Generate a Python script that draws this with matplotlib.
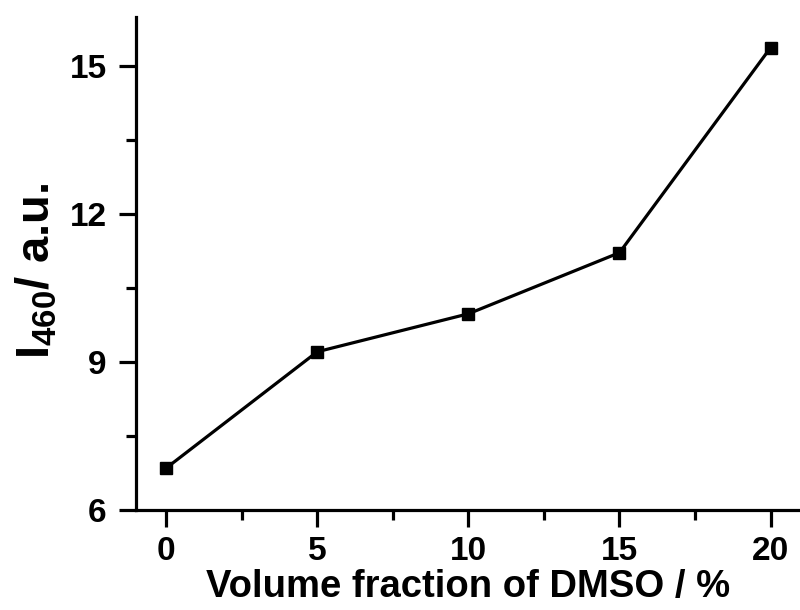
import matplotlib
matplotlib.use("Agg")
import matplotlib.pyplot as plt
from matplotlib.ticker import MultipleLocator

x_values = [0, 5, 10, 15, 20]
y_values = [6.85, 9.21, 9.98, 11.22, 15.38]
x_ticks = [0, 5, 10, 15, 20]
y_ticks = [6, 9, 12, 15]

plt.rcParams['font.family'] = ['Liberation Sans', 'DejaVu Sans']
plt.rcParams['font.weight'] = 'bold'
plt.rcParams['mathtext.fontset'] = 'custom'
plt.rcParams['mathtext.rm'] = 'Liberation Sans:bold'
plt.rcParams['mathtext.bf'] = 'Liberation Sans:bold'
plt.rcParams['mathtext.it'] = 'Liberation Sans:bold'
plt.rcParams['mathtext.default'] = 'bf'

fig = plt.figure(figsize=(8, 6.1), dpi=100)
ax = fig.add_axes([0.17, 0.164, 0.831, 0.808])
ax.plot(x_values, y_values, color='black', lw=2.3, marker='s', ms=8, mfc='black', mec='black')

ax.set_xlim(-1, 21)
ax.set_ylim(6, 16)
ax.set_xticks(x_ticks)
ax.set_yticks(y_ticks)
ax.xaxis.set_minor_locator(MultipleLocator(2.5))
ax.yaxis.set_minor_locator(MultipleLocator(1.5))
ax.tick_params(axis='both', which='major', direction='out', length=12, width=2.3, labelsize=24, pad=7)
ax.tick_params(axis='y', which='major', pad=9)
ax.tick_params(axis='both', which='minor', direction='out', length=7, width=2.3)
for lab in ax.get_xticklabels() + ax.get_yticklabels():
    lab.set_fontweight('bold')

for s in ['top', 'right']:
    ax.spines[s].set_visible(False)
for s in ['left', 'bottom']:
    ax.spines[s].set_linewidth(2.3)

ax.set_xlabel('Volume fraction of DMSO / %', fontsize=27.5, fontweight='bold', labelpad=1)
ax.set_ylabel(r'$\mathbf{I_{460}}$/ a.u.', fontsize=34, fontweight='bold')
ax.yaxis.set_label_coords(-0.115, 0.485)

fig.savefig('out.png', dpi=100)
